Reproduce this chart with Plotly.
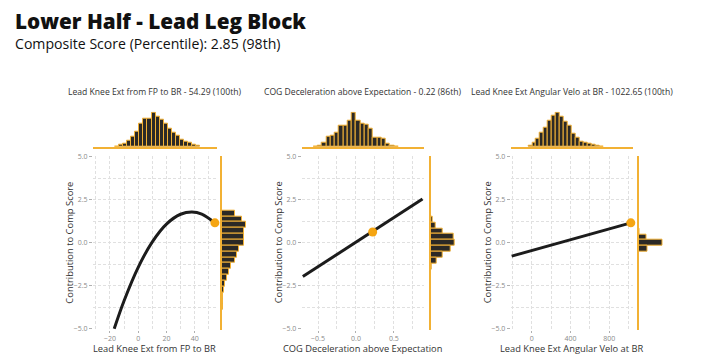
import plotly.graph_objects as go

# page body has an 8px margin: figure starts at (8, 8) in the 720x362 window
OFF = 8
W, H = 720 - 2 * OFF, 362 - OFF

# ---------------- data ----------------
title_main = "Lower Half - Lead Leg Block"
title_sub = "Composite Score (Percentile): 2.85 (98th)"

panel_titles = [
    "Lead Knee Ext from FP to BR - 54.29 (100th)",
    "COG Deceleration above Expectation - 0.22 (86th)",
    "Lead Knee Ext Angular Velo at BR - 1022.65 (100th)",
]
x_titles = [
    "Lead Knee Ext from FP to BR",
    "COG Deceleration above Expectation",
    "Lead Knee Ext Angular Velo at BR",
]
y_title = "Contribution to Comp Score"

# contribution curves
curve1_x = [-17, -10, 0, 10, 20, 30, 38, 45, 54.29]
curve1_y = [-5.0, -3.37, -1.43, 0.05, 1.08, 1.65, 1.78, 1.66, 1.15]
curve2_x = [-0.70, 0.877]
curve2_y = [-1.97, 2.54]
curve3_x = [-206, 1022.65]
curve3_y = [-0.78, 1.15]

# player points
point_x = [54.29, 0.22, 1022.65]
point_y = [1.15, 0.62, 1.15]

# top marginal histograms (bin start, bin width, counts)
top1_start, top1_width = -16.4, 2.87
top1_counts = [2, 7, 9, 19, 32, 47, 72, 85, 87, 105, 92, 82, 70, 57, 44, 34, 22, 17, 12, 7, 4]
top2_start, top2_width = -0.56, 0.056
top2_counts = [2, 5, 14, 30, 34, 45, 65, 65, 79, 105, 79, 70, 69, 55, 29, 27, 25, 9, 5, 2]
top3_start, top3_width = -35, 40.7
top3_counts = [4, 14, 25, 45, 59, 79, 95, 105, 92, 77, 65, 39, 29, 17, 14, 9, 7, 4, 2]

# right marginal histograms (top edge, bin height, counts from top downward)
right1_top, right1_h = 1.875, 0.34
right1_counts = [13, 19.7, 23.7, 22.3, 22.3, 21.7, 17, 15, 12.7, 9.3, 6.7, 4.7, 3.3, 2.3, 1.3, 1, 0.5]
right2_top, right2_h = 1.52, 0.34
right2_counts = [1.7, 5, 11.7, 22.7, 23.7, 20, 12, 6, 1, 0.3]
right3_top, right3_h = 0.83, 0.34
right3_counts = [1, 7.7, 24, 8.7]

x_ranges = [[-32, 55.5], [-0.715, 0.89], [-216, 1040]]
x_dticks = [20, 0.5, 400]
x_formats = ["d", ".1f", "d"]

# ---------------- layout geometry (window pixels) ----------------
main_x_px = [(93, 216.6), (301.7, 423.5), (510.7, 632.5)]
right_x_px = [(222, 260), (430.7, 469), (638.5, 677)]
main_y_px = (155, 333)
top_y_px = (110, 146)


def fx(px):
    return (px - OFF) / W


def fy(py):
    return 1 - (py - OFF) / H


def px_x(a, b):
    return [fx(a), fx(b)]


def px_y(top, bottom):
    return [fy(bottom), fy(top)]


ORANGE = "#f2b134"
BAR_FILL = "#2b2926"
GRID = "#e0e0e0"
TICK = "#8a8a8a"
FONT = "Open Sans"
DASH = "3px,2px"

fig = go.Figure()
layout = dict(
    width=W, height=H, margin=dict(l=0, r=0, t=0, b=0),
    paper_bgcolor="white", plot_bgcolor="white", showlegend=False,
    bargap=0, font=dict(family=FONT),
)

curves = [(curve1_x, curve1_y), (curve2_x, curve2_y), (curve3_x, curve3_y)]
tops = [(top1_start, top1_width, top1_counts), (top2_start, top2_width, top2_counts),
        (top3_start, top3_width, top3_counts)]
rights = [(right1_top, right1_h, right1_counts), (right2_top, right2_h, right2_counts),
          (right3_top, right3_h, right3_counts)]

annotations = []
for i in range(3):
    n_main = 3 * i + 1
    n_top = 3 * i + 2
    n_right = 3 * i + 3
    xm, ym = f"x{n_main}", f"y{n_main}"
    xt, yt = f"x{n_top}", f"y{n_top}"
    xr, yr = f"x{n_right}", f"y{n_right}"

    cx, cy = curves[i]
    fig.add_trace(go.Scatter(x=cx, y=cy, mode="lines", xaxis=xm, yaxis=ym,
                             line=dict(color="#1c1c1c", width=3, shape="spline"),
                             hoverinfo="skip", cliponaxis=False))
    fig.add_trace(go.Scatter(x=[point_x[i]], y=[point_y[i]], mode="markers", xaxis=xm, yaxis=ym,
                             marker=dict(color="#f5a512", size=9), cliponaxis=False))

    s, w, c = tops[i]
    fig.add_trace(go.Bar(x=[s + w * (k + 0.5) for k in range(len(c))], y=c, width=w,
                         xaxis=xt, yaxis=yt, marker=dict(color=BAR_FILL,
                                                        line=dict(color=ORANGE, width=1))))
    t, h, c = rights[i]
    fig.add_trace(go.Bar(y=[t - h * (k + 0.5) for k in range(len(c))], x=c, width=h,
                         orientation="h", xaxis=xr, yaxis=yr,
                         marker=dict(color=BAR_FILL, line=dict(color=ORANGE, width=1))))

    sfx_m = "" if n_main == 1 else str(n_main)
    layout[f"xaxis{sfx_m}"] = dict(
        domain=px_x(*main_x_px[i]), range=x_ranges[i], anchor=ym,
        dtick=x_dticks[i], tick0=0, tickformat=x_formats[i],
        showgrid=True, gridcolor=GRID, griddash=DASH, gridwidth=1,
        minor=dict(dtick=x_dticks[i] / 2, tick0=0, showgrid=True, gridcolor=GRID, griddash=DASH, gridwidth=1),
        zeroline=False, showline=False, ticks="outside", ticklen=2, tickcolor="#b0b0b0",
        tickfont=dict(size=7, color=TICK, family=FONT),
    )
    layout[f"yaxis{n_main}"] = dict(
        domain=px_y(*main_y_px), range=[-5.05, 5.05], anchor=xm,
        dtick=2.5, tick0=0, tickformat=".1f",
        showgrid=True, gridcolor=GRID, griddash=DASH, gridwidth=1,
        minor=dict(dtick=1.25, tick0=0, showgrid=True, gridcolor=GRID, griddash=DASH, gridwidth=1),
        zeroline=False, showline=False, ticks="outside", ticklen=3, tickcolor="#b0b0b0",
        tickfont=dict(size=7, color=TICK, family=FONT),
    )
    layout[f"xaxis{n_top}"] = dict(
        domain=px_x(*main_x_px[i]), range=x_ranges[i], anchor=yt,
        showgrid=False, zeroline=False, showticklabels=False, ticks="",
        showline=True, linecolor=ORANGE, linewidth=1.5,
    )
    layout[f"yaxis{n_top}"] = dict(
        domain=px_y(*top_y_px), range=[0, 108], anchor=xt,
        showgrid=False, zeroline=False, showticklabels=False, ticks="", showline=False,
    )
    layout[f"xaxis{n_right}"] = dict(
        domain=px_x(*right_x_px[i]), range=[0, 38], anchor=yr,
        showgrid=False, zeroline=False, showticklabels=False, ticks="", showline=False,
    )
    layout[f"yaxis{n_right}"] = dict(
        domain=px_y(*main_y_px), range=[-5.05, 5.05], anchor=xr,
        showgrid=False, zeroline=False, showticklabels=False, ticks="",
        showline=True, linecolor=ORANGE, linewidth=1.5,
    )

    cx_mid = (main_x_px[i][0] + main_x_px[i][1]) / 2
    annotations.append(dict(text=panel_titles[i], x=fx(cx_mid), y=fy(90),
                            xref="paper", yref="paper", showarrow=False,
                            font=dict(size=8.6, color="#333333", family=FONT),
                            xanchor="center", yanchor="middle"))
    annotations.append(dict(text=x_titles[i], x=fx(cx_mid), y=fy(352.5),
                            xref="paper", yref="paper", showarrow=False,
                            font=dict(size=9.3, color="#333333", family=FONT),
                            xanchor="center", yanchor="middle"))
    annotations.append(dict(text=y_title, x=fx(main_x_px[i][0] - 23), y=fy(244),
                            xref="paper", yref="paper", showarrow=False, textangle=-90,
                            font=dict(size=9.4, color="#333333", family=FONT),
                            xanchor="center", yanchor="middle"))

annotations.append(dict(text=title_main, x=fx(13), y=fy(17.5),
                        xref="paper", yref="paper", showarrow=False,
                        font=dict(size=20.7, color="#111111", family=FONT, weight=800),
                        xanchor="left", yanchor="middle"))
annotations.append(dict(text=title_sub, x=fx(12.5), y=fy(40),
                        xref="paper", yref="paper", showarrow=False,
                        font=dict(size=14.1, color="#111111", family=FONT),
                        xanchor="left", yanchor="middle"))
layout["annotations"] = annotations

fig.update_layout(**layout)
fig.write_html("out.html")
